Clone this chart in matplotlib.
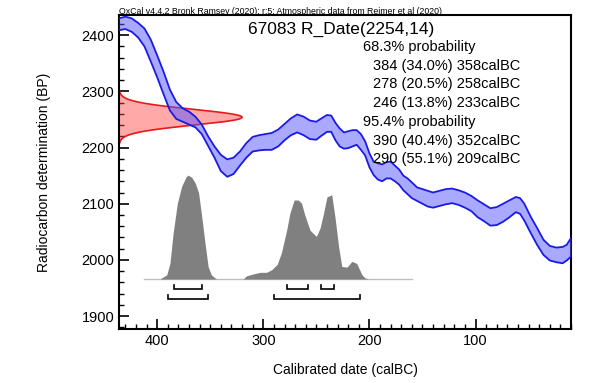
import numpy as np
import matplotlib
matplotlib.use("Agg")
import matplotlib.pyplot as plt
from matplotlib.ticker import MultipleLocator

plt.rcParams['font.family'] = ['Liberation Sans', 'DejaVu Sans']

# ---------------- data ----------------
# calibration curve band (calBC, upper / lower edge in BP)
cal_bc = [436, 430, 424, 418, 412, 406, 400, 394, 388, 382, 376, 370, 364, 358,
          352, 346, 340, 334, 328, 322, 316, 310, 304, 298, 292, 286, 280, 274,
          268, 262, 256, 250, 246, 240, 236, 232, 228, 224, 220, 216, 212, 208,
          204, 200, 196, 192, 188, 184, 180, 176, 172, 168, 164, 160, 155, 150,
          145, 140, 134, 128, 122, 116, 110, 104, 98, 92, 86, 80, 74, 68, 62,
          58, 54, 48, 42, 36, 30, 24, 18, 14, 10]
curve_upper = [2430, 2433, 2430, 2422, 2412, 2392, 2364, 2335, 2303, 2281, 2270,
               2264, 2255, 2241, 2220, 2202, 2187, 2179, 2182, 2193, 2208, 2219,
               2222, 2224, 2226, 2232, 2242, 2252, 2259, 2255, 2248, 2246, 2251,
               2258, 2257, 2244, 2234, 2227, 2229, 2231, 2231, 2224, 2211, 2190,
               2175, 2172, 2170, 2174, 2175, 2168, 2161, 2150, 2145, 2138, 2129,
               2126, 2123, 2120, 2123, 2126, 2127, 2124, 2120, 2114, 2106, 2099,
               2092, 2094, 2100, 2106, 2112, 2110, 2100, 2077, 2057, 2036, 2025,
               2022, 2023, 2027, 2039]
curve_lower = [2409, 2411, 2406, 2396, 2380, 2353, 2325, 2295, 2266, 2251, 2246,
               2241, 2236, 2224, 2203, 2182, 2158, 2148, 2153, 2168, 2182, 2193,
               2195, 2196, 2196, 2202, 2213, 2222, 2227, 2222, 2215, 2214, 2220,
               2228, 2228, 2213, 2202, 2198, 2199, 2202, 2205, 2196, 2186, 2165,
               2151, 2143, 2140, 2145, 2145, 2140, 2134, 2124, 2117, 2110, 2105,
               2100, 2095, 2093, 2096, 2099, 2101, 2098, 2093, 2087, 2076, 2069,
               2061, 2062, 2068, 2076, 2085, 2082, 2070, 2048, 2027, 2009, 1999,
               1996, 1994, 1999, 2006]

# radiocarbon date
r_mean = 2254
r_err = 14

# posterior (relative probability)
post_x = [397, 396, 391, 388, 385, 381, 377, 373, 371, 367.5, 364, 361, 358, 355,
          352, 349, 345.5, 344,
          319, 316, 309, 303, 297, 292, 287, 283, 278, 275, 271, 267, 264, 261,
          256, 250, 246.5, 243.5, 240, 235.5, 232.5, 229, 226, 221, 216.5, 212,
          207, 204, 201]
post_p = [0, 0.01, 0.04, 0.15, 0.44, 0.73, 0.89, 0.98, 1.0, 0.98, 0.92, 0.83,
          0.60, 0.35, 0.12, 0.04, 0.01, 0,
          0, 0.03, 0.05, 0.064, 0.064, 0.09, 0.14, 0.25, 0.47, 0.63, 0.76, 0.76,
          0.73, 0.62, 0.47, 0.41, 0.49, 0.62, 0.79, 0.81, 0.60, 0.31, 0.12, 0.115,
          0.17, 0.15, 0.04, 0.01, 0]

range68 = [(384, 358), (278, 258), (246, 233)]
range95 = [(390, 352), (290, 209)]

title_text = "67083 R_Date(2254,14)"
header_text = "OxCal v4.4.2 Bronk Ramsey (2020); r:5; Atmospheric data from Reimer et al (2020)"
prob_lines = [("68.3% probability", 0),
              ("384 (34.0%) 358calBC", 1),
              ("278 (20.5%) 258calBC", 1),
              ("246 (13.8%) 233calBC", 1),
              ("95.4% probability", 0),
              ("390 (40.4%) 352calBC", 1),
              ("290 (55.1%) 209calBC", 1)]

# ---------------- figure ----------------
W, H = 605, 383
fig = plt.figure(figsize=(W / 100, H / 100), dpi=100)
ax = fig.add_axes([119 / W, 1 - 329 / H, (571 - 119) / W, (329 - 15) / H])

XMAX, XMIN = 436, 10
ax.set_xlim(XMAX, XMIN)
ax.set_ylim(1877, 2436)

# calibration curve
cx = np.array(cal_bc)
ax.fill_between(cx, curve_lower, curve_upper, color=(0.33, 0.33, 1.0), alpha=0.5,
                lw=0, zorder=3)
ax.plot(cx, curve_upper, color=(0.1, 0.1, 0.9), lw=1.3, zorder=4)
ax.plot(cx, curve_lower, color=(0.1, 0.1, 0.9), lw=1.3, zorder=4)

# radiocarbon date distribution on y axis
yy = np.linspace(r_mean - 3.3 * r_err, r_mean + 3.3 * r_err, 300)
dens = np.exp(-0.5 * ((yy - r_mean) / r_err) ** 2)
amp = 116
xr = XMAX - amp * dens
ax.fill_betweenx(yy, XMAX, xr, color=(1.0, 0.25, 0.25), alpha=0.45, lw=0, zorder=2)
ax.plot(xr, yy, color=(0.9, 0.1, 0.1), lw=1.2, zorder=2.5)

# posterior histogram
base = 1966
hscale = 185
px = np.array(post_x)
pp = base + hscale * np.array(post_p)
ax.plot([412, 160], [base, base], color=(0.75, 0.75, 0.75), lw=1.0, zorder=1)
ax.fill_between(px, base, pp, color=(0.5, 0.5, 0.5), lw=0, zorder=1.5)

# range brackets
def bracket(r, y):
    a, b = r
    ax.plot([a, a, b, b], [y + 8, y, y, y + 8], color='black', lw=1.2,
            solid_joinstyle='miter', zorder=5)

for r in range68:
    bracket(r, 1948)
for r in range95:
    bracket(r, 1930)

# axes styling
for s in ax.spines.values():
    s.set_linewidth(1.5)
ax.xaxis.set_major_locator(MultipleLocator(100))
ax.xaxis.set_minor_locator(MultipleLocator(10))
ax.yaxis.set_major_locator(MultipleLocator(100))
ax.yaxis.set_minor_locator(MultipleLocator(20))
ax.tick_params(which='both', direction='in', top=False, right=False,
               labelsize=10.5, width=1.0)
ax.tick_params(which='major', length=7, width=1.2)
ax.tick_params(which='minor', length=3.5)
ax.set_xlabel("Calibrated date (calBC)", fontsize=10, labelpad=11)
ax.set_ylabel("Radiocarbon determination (BP)", fontsize=10, labelpad=22)

# texts
fig.text(119 / W, 1 - 13.5 / H, header_text, fontsize=6.3, ha='left', va='baseline')
fig.text(248 / W, 1 - 29 / H, title_text, fontsize=12.5, ha='left', va='center')
ys = [47.3, 65.7, 84.3, 103.3, 122.3, 141, 159.3]
for (t, ind), y in zip(prob_lines, ys):
    x0 = 372.7 if ind else 363.3
    fig.text(x0 / W, 1 - y / H, t, fontsize=10.5, ha='left', va='center')

fig.savefig("out.png", dpi=100)
